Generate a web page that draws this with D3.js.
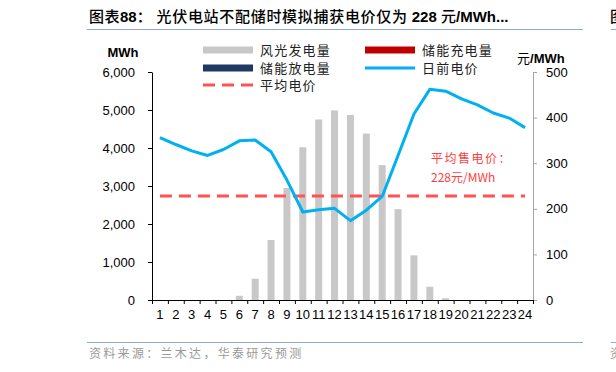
<!DOCTYPE html>
<html>
<head>
<meta charset="utf-8">
<script src="https://cdn.jsdelivr.net/npm/d3@7/dist/d3.min.js"></script>
<style>
  body { margin: 0; background: #fff; }
  svg { display: block; font-family: "Liberation Sans", Arial, sans-serif; }
  .cn { font-family: "Noto Sans CJK SC", sans-serif; }
  .axis text { font-size: 13px; fill: #000; }
</style>
</head>
<body>
<svg id="chart" width="616" height="372"></svg>
<script>
// hours 1..24
var hours = d3.range(1, 25);
// wind/solar generation, MWh
var genMWh = [0, 0, 0, 0, 0, 110, 560, 1580, 2950, 4020, 4750, 4990,
              4870, 4380, 3550, 2390, 1175, 350, 45, 0, 0, 0, 0, 0];
// day-ahead price, yuan/MWh
var dayAheadPrice = [356, 341, 327, 317, 330, 349, 351, 325, 263, 193, 198, 201,
                     174, 197, 227, 317, 408, 462, 458, 441, 428, 410, 399, 378];
var avgPrice = 228;
var leftTicks = [0, 1000, 2000, 3000, 4000, 5000, 6000];
var rightTicks = [0, 100, 200, 300, 400, 500];

var svg = d3.select("#chart");

var pLeft = 152, pRight = 533, pTop = 72, pBottom = 300;

var x = d3.scaleBand().domain(hours).range([pLeft, pRight]).paddingInner(0.56).paddingOuter(0.28);
var xEdge = d3.scaleLinear().domain([0, 24]).range([pLeft, pRight]);
var yL = d3.scaleLinear().domain([0, 6000]).range([pBottom, pTop]);
var yR = d3.scaleLinear().domain([0, 500]).range([pBottom, pTop]);
function cx(h) { return xEdge(h - 0.5); }

// title
var title = svg.append("text").attr("x", 89).attr("y", 22).style("font-size", "15px");
title.append("tspan").attr("class", "cn").style("font-weight", 500).style("letter-spacing", "0.5px").text("图表");
title.append("tspan").style("font-weight", "bold").text("88");
title.append("tspan").attr("class", "cn").style("font-weight", 500).style("letter-spacing", "0.7px")
    .text("：  光伏电站不配储时模拟捕获电价仅为 ");
title.append("tspan").style("font-weight", "bold").text("228 ");
title.append("tspan").attr("class", "cn").style("font-weight", 500).text("元");
title.append("tspan").style("font-weight", "bold").text("/MWh...");
svg.append("text").attr("class", "cn").attr("x", 610).attr("y", 22)
    .style("font-size", "15px").style("font-weight", 500).text("图");

// rule lines
[[87, 583], [611, 616]].forEach(function(s) {
    svg.append("line").attr("x1", s[0]).attr("x2", s[1]).attr("y1", 29.5).attr("y2", 29.5)
        .attr("stroke", "#8eaacc").attr("stroke-width", 1);
    svg.append("line").attr("x1", s[0]).attr("x2", s[1]).attr("y1", 342.5).attr("y2", 342.5)
        .attr("stroke", "#8eaacc").attr("stroke-width", 1);
});
svg.append("text").attr("class", "cn").attr("x", 89).attr("y", 358)
    .style("font-size", "12px").attr("fill", "#9a9a9a").style("letter-spacing", "2.3px")
    .text("资料来源：兰木达，华泰研究预测");
svg.append("text").attr("class", "cn").attr("x", 610).attr("y", 358)
    .style("font-size", "12px").attr("fill", "#9a9a9a").text("资");

// bars
svg.append("g").selectAll("rect").data(genMWh).enter().append("rect")
    .attr("x", function(d, i) { return x(hours[i]); })
    .attr("width", x.bandwidth())
    .attr("y", function(d) { return yL(d); })
    .attr("height", function(d) { return pBottom - yL(d); })
    .attr("fill", "#c8c8c8");

// average price dashed line
svg.append("line")
    .attr("x1", cx(1)).attr("x2", cx(24))
    .attr("y1", yR(avgPrice)).attr("y2", yR(avgPrice))
    .attr("stroke", "#ff5252").attr("stroke-width", 3)
    .attr("stroke-dasharray", "12,7");

// price line
var line = d3.line()
    .x(function(d, i) { return cx(hours[i]); })
    .y(function(d) { return yR(d); });
svg.append("path").datum(dayAheadPrice)
    .attr("d", line).attr("fill", "none")
    .attr("stroke", "#00b0f0").attr("stroke-width", 3)
    .attr("stroke-linejoin", "round");

// annotation
svg.append("text").attr("class", "cn").attr("x", 431).attr("y", 163)
    .style("font-size", "12px").attr("fill", "#ff4040").style("letter-spacing", "1.5px")
    .text("平均售电价：");
svg.append("text").attr("class", "cn").attr("x", 431).attr("y", 182)
    .style("font-size", "12px").attr("fill", "#ff4040")
    .text("228元/MWh");

// axes
var gL = svg.append("g").attr("class", "axis").attr("transform", "translate(" + pLeft + ",0)")
    .call(d3.axisLeft(yL).tickValues(leftTicks).tickFormat(d3.format(",")).tickSize(4).tickPadding(13).tickSizeOuter(0));
gL.select(".domain").attr("stroke", "#000");

var gR = svg.append("g").attr("class", "axis").attr("transform", "translate(" + pRight + ",0)")
    .call(d3.axisRight(yR).tickValues(rightTicks).tickSize(4).tickPadding(9).tickSizeOuter(0));
gR.select(".domain").attr("stroke", "#a6a6a6");
gR.selectAll(".tick line").attr("stroke", "#a6a6a6");

var gB = svg.append("g").attr("class", "axis").attr("transform", "translate(0," + pBottom + ")")
    .call(d3.axisBottom(xEdge).tickValues(d3.range(25)).tickFormat("").tickSize(4).tickSizeOuter(0));
gB.select(".domain").attr("stroke", "#000");
svg.append("g").attr("class", "axis").attr("transform", "translate(0," + pBottom + ")")
    .call(d3.axisBottom(x).tickSize(0).tickPadding(10))
    .select(".domain").remove();

// axis titles
svg.append("text").attr("x", 123).attr("y", 57).attr("text-anchor", "middle")
    .style("font-size", "13px").style("font-weight", "bold").text("MWh");
var rt = svg.append("text").attr("x", 517).attr("y", 63).style("font-size", "13px");
rt.append("tspan").attr("class", "cn").text("元");
rt.append("tspan").style("font-weight", "bold").text("/MWh");

// legend
var legend = [
    { name: "风光发电量", type: "rect", color: "#c8c8c8", x: 203, y: 50 },
    { name: "储能充电量", type: "rect", color: "#c00000", x: 365, y: 50 },
    { name: "储能放电量", type: "rect", color: "#1f3864", x: 203, y: 68 },
    { name: "日前电价", type: "line", color: "#00b0f0", x: 365, y: 68 },
    { name: "平均电价", type: "dash", color: "#ff5252", x: 203, y: 85 }
];
var lg = svg.append("g").selectAll("g").data(legend).enter().append("g")
    .attr("transform", function(d) { return "translate(" + d.x + "," + d.y + ")"; });
lg.filter(function(d) { return d.type === "rect"; }).append("rect")
    .attr("x", 0).attr("y", -3.5).attr("width", 50).attr("height", 7)
    .attr("fill", function(d) { return d.color; });
lg.filter(function(d) { return d.type !== "rect"; }).append("line")
    .attr("x1", 0).attr("x2", 50).attr("y1", 0).attr("y2", 0)
    .attr("stroke", function(d) { return d.color; }).attr("stroke-width", 3)
    .attr("stroke-dasharray", function(d) { return d.type === "dash" ? "12,7" : null; });
lg.append("text").attr("class", "cn").attr("x", 57).attr("y", 4.5)
    .style("font-size", "13px").style("letter-spacing", "1.2px").attr("fill", "#222")
    .text(function(d) { return d.name; });
</script>
</body>
</html>
